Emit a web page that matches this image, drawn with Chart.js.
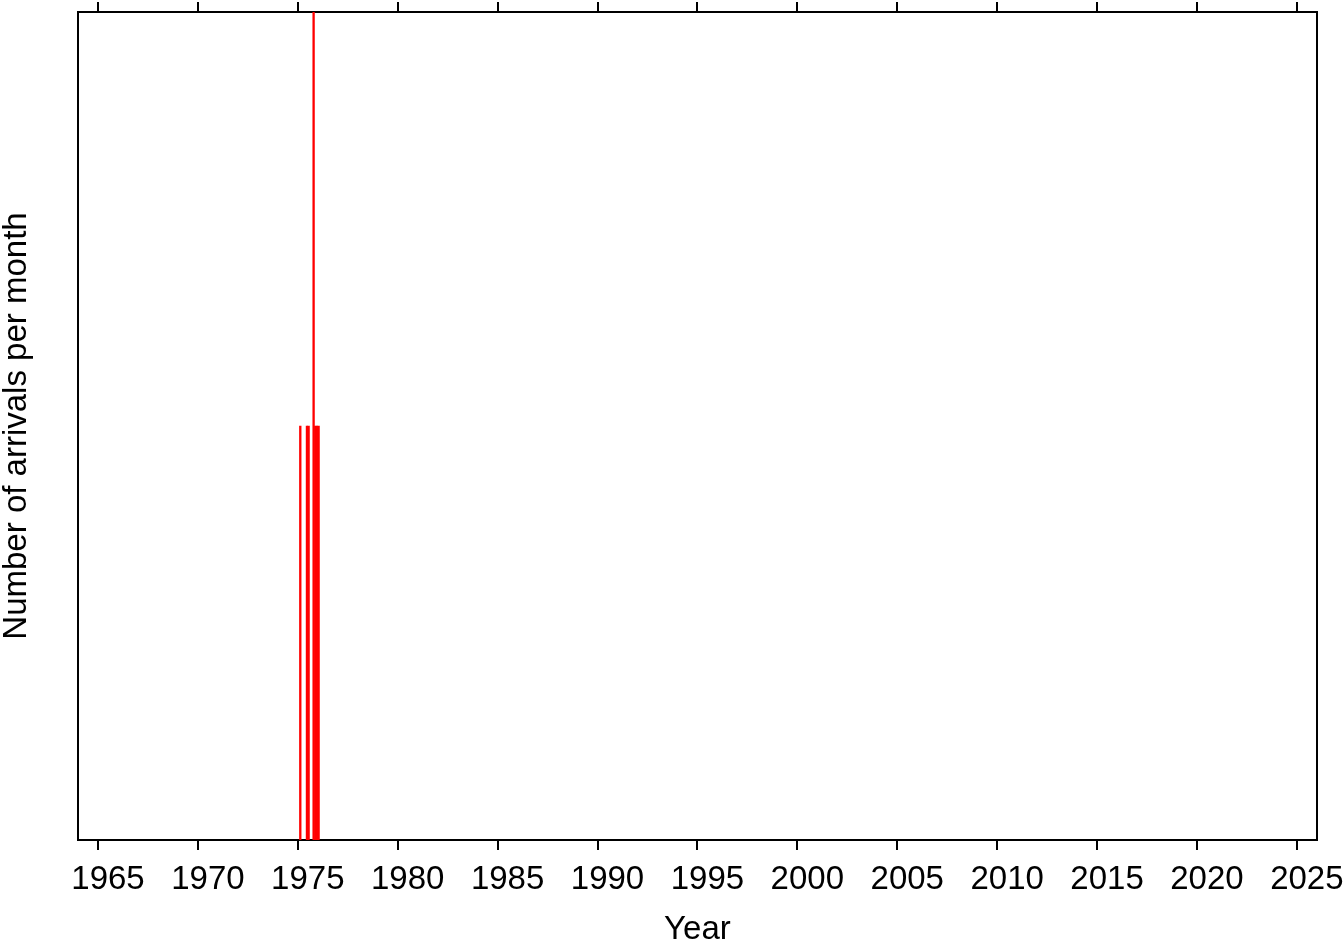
<!DOCTYPE html>
<html>
<head>
<meta charset="utf-8">
<title>Arrivals per month</title>
<script src="https://cdn.jsdelivr.net/npm/chart.js@4"></script>
<style>
  html, body { margin: 0; padding: 0; background: #fff; }
  canvas { display: block; }
</style>
</head>
<body>
<canvas id="arrivalsChart" width="1344" height="942"></canvas>
<script>
// ===== data =====
const months = ["1975-02", "1975-06", "1975-07", "1975-10", "1975-11", "1975-12", "1976-01"];
const arrivals = [1, 1, 1, 2, 1, 1, 1];
const yearTicks = [1965, 1970, 1975, 1980, 1985, 1990, 1995, 2000, 2005, 2010, 2015, 2020, 2025];
const yearMin = 1964;
const yearMax = 2026;
const countMax = 2;

// month string -> decimal year (middle of the month)
function monthToYear(m) {
    const [y, mo] = m.split("-").map(Number);
    return y + (mo - 0.5) / 12;
}

const points = months.map((m, i) => ({ x: monthToYear(m), y: arrivals[i] }));

const FONT = "'Liberation Sans', Arial, Helvetica, sans-serif";

function setYearTicks(scale) {
    scale.ticks = yearTicks.map(v => ({ value: v }));
}

const tickGrid = {
    display: true,
    drawOnChartArea: false,
    drawTicks: true,
    tickLength: 10,
    color: "#000",
    lineWidth: 2
};

const frame = { display: true, color: "#000", width: 2 };

new Chart(document.getElementById("arrivalsChart"), {
    type: "bar",
    data: {
        datasets: [{
            data: points,
            backgroundColor: "#ff0000",
            borderWidth: 0,
            barPercentage: 1,
            categoryPercentage: 1
        }]
    },
    options: {
        responsive: false,
        animation: false,
        layout: { padding: 0 },
        plugins: {
            legend: { display: false },
            tooltip: { enabled: false }
        },
        scales: {
            x: {
                type: "linear",
                position: "bottom",
                min: yearMin,
                max: yearMax,
                offset: false,
                afterBuildTicks: setYearTicks,
                afterFit: s => { s.height = 102; },
                grid: { ...tickGrid, offset: false },
                border: frame,
                ticks: {
                    color: "#000",
                    padding: 10,
                    labelOffset: 10,
                    maxRotation: 0,
                    autoSkip: false,
                    font: { family: FONT, size: 33 },
                    callback: v => String(v)
                },
                title: {
                    display: true,
                    text: "Year",
                    color: "#000",
                    padding: 0,
                    font: { family: FONT, size: 33, lineHeight: 0.72 }
                }
            },
            x2: {
                type: "linear",
                position: "top",
                min: yearMin,
                max: yearMax,
                offset: false,
                afterBuildTicks: setYearTicks,
                afterFit: s => { s.height = 12; },
                grid: { ...tickGrid, offset: false },
                border: frame,
                ticks: { display: false }
            },
            y: {
                position: "left",
                min: 0,
                max: countMax,
                afterFit: s => { s.width = 78; },
                grid: { display: false },
                border: frame,
                ticks: { display: false },
                title: {
                    display: true,
                    text: "Number of arrivals per month",
                    color: "#000",
                    padding: 0,
                    font: { family: FONT, size: 33, lineHeight: 1.05 }
                }
            },
            y2: {
                position: "right",
                min: 0,
                max: countMax,
                afterFit: s => { s.width = 26; },
                grid: { display: false },
                border: frame,
                ticks: { display: false }
            }
        }
    }
});
</script>
</body>
</html>
